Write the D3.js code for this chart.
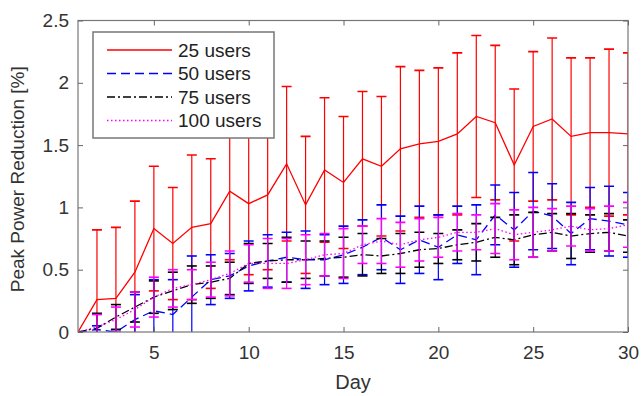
<!DOCTYPE html>
<html>
<head>
<meta charset="utf-8">
<script src="https://cdn.jsdelivr.net/npm/d3@7"></script>
<style>
  body { margin: 0; background: #fff; }
  svg { display: block; font-family: "Liberation Sans", Arial, sans-serif; }
</style>
</head>
<body>
<svg id="chart" width="641" height="396"></svg>
<script>
// data
var days = [1, 2, 3, 4, 5, 6, 7, 8, 9, 10, 11, 12, 13, 14, 15, 16, 17, 18, 19, 20, 21, 22, 23, 24, 25, 26, 27, 28, 29, 30]

var mean25 = [0, 0.26, 0.27, 0.48, 0.83, 0.71, 0.84, 0.87, 1.13, 1.03, 1.1, 1.35, 1.02, 1.3, 1.2, 1.39, 1.33, 1.47, 1.51, 1.53, 1.59, 1.73, 1.68, 1.34, 1.65, 1.71, 1.57, 1.6, 1.6, 1.59]
var err25 = [0, 0.56, 0.57, 0.57, 0.5, 0.45, 0.58, 0.52, 0.55, 0.57, 0.6, 0.62, 0.55, 0.58, 0.53, 0.54, 0.56, 0.66, 0.59, 0.59, 0.65, 0.65, 0.62, 0.61, 0.6, 0.65, 0.63, 0.6, 0.67, 0.65]

var mean50 = [0, 0.02, 0.0, 0.1, 0.17, 0.14, 0.28, 0.42, 0.45, 0.53, 0.57, 0.6, 0.58, 0.58, 0.62, 0.68, 0.76, 0.66, 0.74, 0.68, 0.78, 0.74, 0.94, 0.82, 0.97, 0.93, 0.79, 0.91, 0.89, 0.86]
var err50 = [0, 0.03, 0.02, 0.2, 0.25, 0.28, 0.33, 0.2, 0.18, 0.2, 0.21, 0.2, 0.23, 0.2, 0.23, 0.22, 0.26, 0.27, 0.27, 0.26, 0.23, 0.28, 0.24, 0.3, 0.31, 0.26, 0.25, 0.25, 0.28, 0.26]

var mean75 = [0, 0.03, 0.12, 0.2, 0.28, 0.33, 0.38, 0.4, 0.43, 0.55, 0.57, 0.58, 0.58, 0.59, 0.6, 0.62, 0.61, 0.63, 0.66, 0.67, 0.7, 0.72, 0.76, 0.74, 0.78, 0.8, 0.77, 0.79, 0.8, 0.77]
var err75 = [0, 0.12, 0.1, 0.12, 0.13, 0.15, 0.15, 0.13, 0.13, 0.16, 0.14, 0.18, 0.15, 0.14, 0.16, 0.17, 0.14, 0.16, 0.14, 0.12, 0.12, 0.15, 0.16, 0.2, 0.18, 0.15, 0.18, 0.15, 0.15, 0.13]

var mean100 = [0, 0.04, 0.1, 0.18, 0.28, 0.35, 0.38, 0.42, 0.47, 0.55, 0.55, 0.55, 0.58, 0.62, 0.63, 0.7, 0.73, 0.7, 0.74, 0.76, 0.8, 0.8, 0.83, 0.78, 0.8, 0.82, 0.85, 0.82, 0.83, 0.86]
var err100 = [0, 0.1, 0.1, 0.14, 0.16, 0.15, 0.12, 0.14, 0.18, 0.15, 0.2, 0.2, 0.2, 0.17, 0.2, 0.15, 0.18, 0.18, 0.17, 0.16, 0.15, 0.14, 0.2, 0.2, 0.2, 0.17, 0.16, 0.17, 0.18, 0.18]

var legendLabels = ['25 users', '50 users', '75 users', '100 users']
var xTicks = [5, 10, 15, 20, 25, 30]
var yTicks = [0, 0.5, 1, 1.5, 2, 2.5]

// plot box
var margin = { top: 20.5, left: 78, right: 13, bottom: 64 }
var width = 641 - margin.left - margin.right
var height = 396 - margin.top - margin.bottom

var svg = d3.select('#chart')

var xPositionScale = d3.scaleLinear().domain([1, 30]).range([0, width])
var yPositionScale = d3.scaleLinear().domain([0, 2.5]).range([height, 0])

var series = [
  { label: legendLabels[0], mean: mean25, err: err25, color: '#ff0000', dash: null },
  { label: legendLabels[1], mean: mean50, err: err50, color: '#0000ff', dash: '9,5' },
  { label: legendLabels[2], mean: mean75, err: err75, color: '#000000', dash: '8,3,2,3' },
  { label: legendLabels[3], mean: mean100, err: err100, color: '#ff00ff', dash: '1.5,2.5' }
]

var g = svg.append('g')
  .attr('transform', 'translate(' + margin.left + ',' + margin.top + ')')

svg.append('defs').append('clipPath')
  .attr('id', 'plot-clip')
  .append('rect')
  .attr('width', width)
  .attr('height', height)

var plot = g.append('g').attr('clip-path', 'url(#plot-clip)')

var line = d3.line()
  .x(function(d) { return xPositionScale(d.day) })
  .y(function(d) { return yPositionScale(d.mean) })

series.forEach(function(s) {
  var datapoints = days.map(function(day, i) {
    return { day: day, mean: s.mean[i], err: s.err[i] }
  })

  var bars = plot.append('g').attr('class', 'errorbars')

  bars.selectAll('.stem')
    .data(datapoints.filter(d => d.err > 0))
    .enter()
    .append('line')
    .attr('x1', d => xPositionScale(d.day))
    .attr('x2', d => xPositionScale(d.day))
    .attr('y1', d => yPositionScale(d.mean - d.err))
    .attr('y2', d => yPositionScale(d.mean + d.err))
    .attr('stroke', s.color)
    .attr('stroke-width', 1.2)

  ;[-1, 1].forEach(function(sign) {
    bars.selectAll('.cap' + sign)
      .data(datapoints.filter(d => d.err > 0))
      .enter()
      .append('line')
      .attr('x1', d => xPositionScale(d.day) - 5)
      .attr('x2', d => xPositionScale(d.day) + 5)
      .attr('y1', d => yPositionScale(d.mean + sign * d.err))
      .attr('y2', d => yPositionScale(d.mean + sign * d.err))
      .attr('stroke', s.color)
      .attr('stroke-width', 1.6)
  })

  plot.append('path')
    .datum(datapoints)
    .attr('d', line)
    .attr('fill', 'none')
    .attr('stroke', s.color)
    .attr('stroke-width', 1.3)
    .attr('stroke-dasharray', s.dash)
})

// axes box
g.append('rect')
  .attr('width', width)
  .attr('height', height)
  .attr('fill', 'none')
  .attr('stroke', '#777')
  .attr('stroke-width', 1.2)

// ticks inward on all four sides, matlab style labels
var tickFmt = d3.format('~g')

var xAxis = d3.axisBottom(xPositionScale).tickValues(xTicks).tickSize(-5).tickPadding(14).tickFormat(tickFmt)
g.append('g')
  .attr('class', 'axis x-axis')
  .attr('transform', 'translate(0,' + height + ')')
  .call(xAxis)

g.append('g')
  .attr('class', 'axis x-top')
  .call(d3.axisTop(xPositionScale).tickValues(xTicks).tickSize(-5).tickFormat(''))

var yAxis = d3.axisLeft(yPositionScale).tickValues(yTicks).tickSize(-5).tickPadding(9).tickFormat(tickFmt)
g.append('g')
  .attr('class', 'axis y-axis')
  .call(yAxis)

g.append('g')
  .attr('class', 'axis y-right')
  .attr('transform', 'translate(' + width + ',0)')
  .call(d3.axisRight(yPositionScale).tickValues(yTicks).tickSize(-5).tickFormat(''))

g.selectAll('.axis .domain').remove()
g.selectAll('.axis line').attr('stroke', '#666')
g.selectAll('.axis text')
  .attr('font-size', 19)
  .attr('fill', '#333')
  .attr('font-family', '"Liberation Sans", Arial, sans-serif')

// axis titles
svg.append('text')
  .text('Day')
  .attr('x', margin.left + width / 2)
  .attr('y', 389)
  .attr('text-anchor', 'middle')
  .attr('font-size', 20)
  .attr('fill', '#333')

svg.append('text')
  .text('Peak Power Reduction [%]')
  .attr('transform', 'translate(24,' + (margin.top + height / 2 + 3) + ') rotate(-90)')
  .attr('text-anchor', 'middle')
  .attr('font-size', 19)
  .attr('fill', '#333')

// legend
var legend = svg.append('g').attr('transform', 'translate(93,32)')

legend.append('rect')
  .attr('width', 181)
  .attr('height', 106)
  .attr('fill', '#fff')
  .attr('stroke', '#777')
  .attr('stroke-width', 1.5)

series.forEach(function(s, i) {
  var yy = 18 + i * 23.5
  legend.append('line')
    .attr('x1', 14)
    .attr('x2', 79)
    .attr('y1', yy)
    .attr('y2', yy)
    .attr('stroke', s.color)
    .attr('stroke-width', 1.3)
    .attr('stroke-dasharray', s.dash)

  legend.append('text')
    .text(s.label)
    .attr('x', 85)
    .attr('y', yy + 6.5)
    .attr('font-size', 19)
    .attr('fill', '#222')
})
</script>
</body>
</html>
